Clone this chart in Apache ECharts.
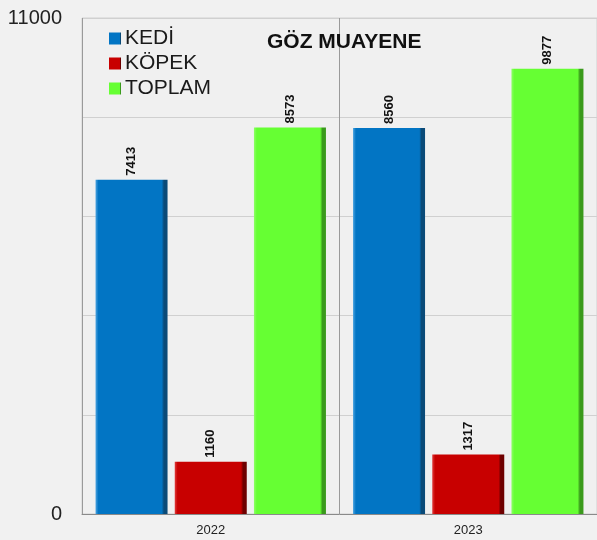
<!DOCTYPE html>
<html>
<head>
<meta charset="utf-8">
<title>GÖZ MUAYENE</title>
<script src="https://cdn.jsdelivr.net/npm/echarts@6/dist/echarts.min.js"></script>
<style>
  html, body { margin: 0; padding: 0; background: #f1f1f1; }
  #chart { width: 597px; height: 540px; }
</style>
</head>
<body>
<div id="chart"></div>
<script>
// data
var years = ['2022', '2023'];
var kedi = [7413, 8560];
var kopek = [1160, 1317];
var toplam = [8573, 9877];
var yTicks = [0, 11000]; // only these two labels are printed

// bevel look: light left edge, flat middle, dark right edge
function bevel (light, main, dark) {
  return new echarts.graphic.LinearGradient(0, 0, 1, 0, [
    { offset: 0, color: light },
    { offset: 0.04, color: main },
    { offset: 0.92, color: main },
    { offset: 0.95, color: dark },
    { offset: 1, color: dark }
  ]);
}

var font = 'Liberation Sans, Arial, sans-serif';
var chart = echarts.init(document.getElementById('chart'));

function barSeries (name, data, light, main, dark) {
  return {
    name: name,
    type: 'bar',
    data: data,
    barWidth: 72,
    barGap: '10%',
    itemStyle: { color: bevel(light, main, dark) },
    label: {
      show: true,
      position: 'top',
      rotate: 90,
      align: 'left',
      verticalAlign: 'middle',
      distance: 4,
      color: '#111',
      fontWeight: 'bold',
      fontSize: 13,
      fontFamily: font
    }
  };
}

var option = {
  backgroundColor: '#f1f1f1',
  animation: false,
  textStyle: { fontFamily: font },
  title: {
    text: 'GÖZ MUAYENE',
    left: 262,
    top: 27,
    textStyle: { fontSize: 21, fontWeight: 'bold', color: '#111', fontFamily: font }
  },
  legend: {
    orient: 'vertical',
    left: 104,
    top: 23,
    itemGap: 4,
    itemWidth: 12,
    itemHeight: 12,
    icon: 'rect',
    textStyle: { fontSize: 21, color: '#1a1a1a', fontFamily: font, padding: [0, 0, 0, -1] },
    data: ['KEDİ', 'KÖPEK', 'TOPLAM']
  },
  grid: {
    left: 82,
    top: 18,
    width: 518,
    height: 496,
    show: true,
    backgroundColor: '#f0f0f0',
    borderColor: '#d0d0d0',
    borderWidth: 1
  },
  xAxis: {
    type: 'category',
    data: years,
    axisTick: { show: false },
    axisLine: { lineStyle: { color: '#8a8a8a' } },
    axisLabel: { color: '#222', fontSize: 13, margin: 10 },
    splitLine: { show: true, lineStyle: { color: '#9a9a9a' } }
  },
  yAxis: {
    type: 'value',
    min: 0,
    max: 11000,
    interval: 2200,
    axisLine: { show: false },
    axisTick: { show: false },
    axisLabel: {
      color: '#222',
      fontSize: 20,
      margin: 20,
      formatter: function (v) {
        return yTicks.indexOf(v) !== -1 ? String(v) : '';
      }
    },
    splitLine: { lineStyle: { color: '#d0d0d0' } }
  },
  series: [
    barSeries('KEDİ', kedi, '#4aa3e0', '#0275c4', '#0a4a78'),
    barSeries('KÖPEK', kopek, '#e03a3a', '#c80000', '#6e0000'),
    barSeries('TOPLAM', toplam, '#8cff66', '#66ff33', '#3a9a1c')
  ]
};

chart.setOption(option);
</script>
</body>
</html>
